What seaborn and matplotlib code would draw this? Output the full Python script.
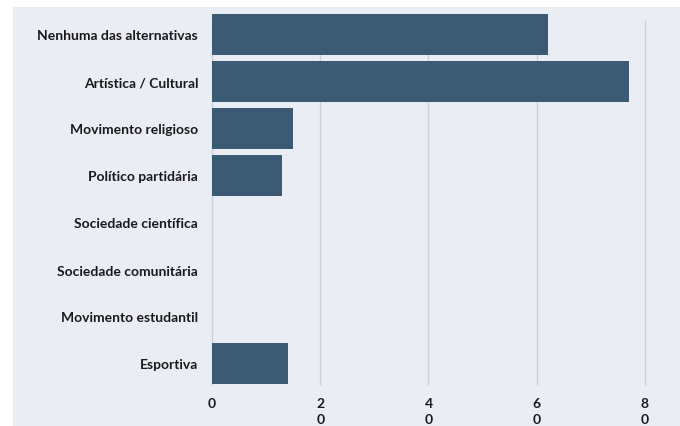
import matplotlib
matplotlib.use("Agg")
import matplotlib.pyplot as plt
from matplotlib.patches import Rectangle
import seaborn as sns
import pandas as pd

categories = ["Nenhuma das alternativas", "Artística / Cultural", "Movimento religioso",
              "Político partidária", "Sociedade científica", "Sociedade comunitária",
              "Movimento estudantil", "Esportiva"]
values = [62, 77, 15, 13, 0, 0, 0, 14]
xticks = [0, 20, 40, 60, 80]
xtick_labels = ["0", "2\n0", "4\n0", "6\n0", "8\n0"]

df = pd.DataFrame({"cat": categories, "val": values})

sns.set_theme(style="white")
plt.rcParams['font.family'] = ['Lato', 'DejaVu Sans']

bg = "#eaedf4"
fig = plt.figure(figsize=(6.8, 4.27), dpi=100)
fig.patch.set_facecolor("white")
fig.patches.append(Rectangle((13/680, 0), 1, 1 - 8/427, transform=fig.transFigure,
                             facecolor=bg, edgecolor="none", zorder=-10))
ax = fig.add_axes([212/680, 1 - 388/427, 460/680, 376/427])
ax.set_facecolor(bg)

sns.barplot(data=df, y="cat", x="val", orient="h", color="#3b5b75", saturation=1,
            width=0.87, ax=ax, zorder=3, linewidth=0, edgecolor="none")

ax.set_xlim(0, 85)
ax.set_ylim(7.5, -0.5)
ax.set_xticks(xticks)
ax.set_xticklabels(xtick_labels, fontsize=10, fontweight="bold", color="#1a1a1a",
                   linespacing=1.45, va="top")
ax.tick_params(axis="x", length=0, pad=7)
ax.tick_params(axis="y", length=0, pad=10, labelsize=10)
for t in ax.get_yticklabels():
    t.set_fontweight("bold")
    t.set_color("#1a1a1a")
for x in xticks:
    ax.plot([x, x], [-0.3, 7.45], color="#cdd0d6", lw=1, zorder=1,
            solid_capstyle="butt", clip_on=False)
ax.set_xlabel("")
ax.set_ylabel("")
for s in ax.spines.values():
    s.set_visible(False)

fig.savefig("out.png", dpi=100, facecolor="white")
